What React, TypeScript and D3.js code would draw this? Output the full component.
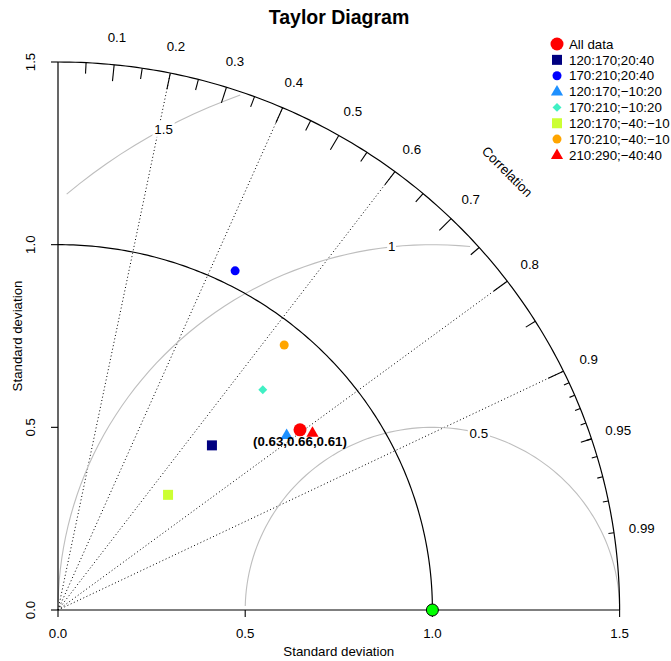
import React from "react";
import * as d3 from "d3";

const W = 671;
const H = 661;
const maxSd = 1.5;
const refSd = 1;

// axis and correlation ticks
const sdTicks = [0, 0.5, 1, 1.5];
const corMajor = [0.1, 0.2, 0.3, 0.4, 0.5, 0.6, 0.7, 0.8, 0.9];
const corMedium = [0.05, 0.15, 0.25, 0.35, 0.45, 0.55, 0.65, 0.75, 0.85, 0.95];
const corMinor = [0.91, 0.92, 0.93, 0.94, 0.95, 0.96, 0.97, 0.98, 0.99];
const corLabels = [0.1, 0.2, 0.3, 0.4, 0.5, 0.6, 0.7, 0.8, 0.9, 0.95, 0.99];
const corLines = [0.2, 0.4, 0.6, 0.8, 0.9];

// centred RMS contours, label index along the arc
const gammaLevels = [0.5, 1, 1.5];
const gammaLabelIdx = [44, 56, 69];

// model points (standard deviation, correlation)
const names = [
  "All data",
  "120:170;20:40",
  "170:210;20:40",
  "120:170;\u221210:20",
  "170:210;\u221210:20",
  "120:170;\u221240:\u221210",
  "170:210;\u221240:\u221210",
  "210:290;\u221240:40",
];
const sds = [0.813, 0.61, 1.042, 0.776, 0.814, 0.431, 0.944, 0.835];
const cors = [0.795, 0.674, 0.454, 0.787, 0.672, 0.682, 0.64, 0.814];
const colors = ["#ff0000", "#000080", "#0000ff", "#1e90ff", "#40f0c4", "#ccff33", "#ffa500", "#ff0000"];
const shapes = ["bigcircle", "square", "circle", "triangle", "diamond", "square", "circle", "triangle"];
const allDataLabel = "(0.63,0.66,0.61)";

const font = "'Liberation Sans', Arial, Helvetica, sans-serif";
const fs = 13.3;

const x = d3.scaleLinear().domain([0, maxSd]).range([58, 619.6]);
const y = d3.scaleLinear().domain([0, maxSd]).range([610, 62]);

const polar = (r: number, a: number): [number, number] => [x(r * Math.cos(a)), y(r * Math.sin(a))];
const line = d3.line<[number, number]>();

function Marker({ shape, color, cx, cy }: { shape: string; color: string; cx: number; cy: number }) {
  if (shape === "bigcircle") return <circle cx={cx} cy={cy} r={6.5} fill={color} />;
  if (shape === "circle") return <circle cx={cx} cy={cy} r={4.5} fill={color} />;
  if (shape === "square") return <rect x={cx - 5} y={cy - 5} width={10} height={10} fill={color} />;
  if (shape === "diamond")
    return <path d={d3.symbol(d3.symbolSquare, 40)() || ""} transform={`translate(${cx},${cy}) rotate(45)`} fill={color} />;
  return <path d={d3.symbol(d3.symbolTriangle, 64)() || ""} transform={`translate(${cx},${cy + 0.5})`} fill={color} />;
}

function textW(s: string, size: number) {
  let w = 0;
  for (const c of s) w += c === "." ? 0.278 : 0.556;
  return w * size;
}

export default function App() {
  const quarter = d3.range(0, Math.PI / 2, 0.01).concat([Math.PI / 2]);
  const outerArc = line(quarter.map((a) => polar(maxSd, a))) || "";
  const refArc = line(quarter.map((a) => polar(refSd, a))) || "";

  const half = d3.range(0, Math.PI, 0.03);
  const gammas = gammaLevels.map((g, gi) => {
    const pts = half.map((a) => [refSd + g * Math.cos(a), g * Math.sin(a)]);
    let start = 0;
    pts.forEach((p, i) => {
      if (p[0] * p[0] + p[1] * p[1] > maxSd * maxSd + 1e-9) start = i + 1;
    });
    let end = pts.length - 1;
    const neg = pts.findIndex((p) => p[0] < 0);
    if (neg >= 0) end = neg - 1;
    const seg = pts.slice(start, end + 1).map((p) => [x(p[0]), y(p[1])] as [number, number]);
    const lp = pts[gammaLabelIdx[gi]];
    return { g, d: line(seg) || "", lx: x(lp[0]), ly: y(lp[1]) };
  });

  const tick = (c: number, inner: number) => {
    const a = Math.acos(c);
    const [x1, y1] = polar(maxSd, a);
    const [x2, y2] = polar(maxSd * inner, a);
    return <line key={`${c}-${inner}`} x1={x1} y1={y1} x2={x2} y2={y2} stroke="#000" strokeWidth={1.1} />;
  };

  const pts = names.map((n, i) => {
    const [px, py] = polar(sds[i], Math.acos(cors[i]));
    return { n, px, py, color: colors[i], shape: shapes[i] };
  });

  return (
    <svg width={W} height={H} style={{ position: "absolute", left: 0, top: 0, background: "#fff" }} fontFamily={font}>
      <text x={339} y={24} textAnchor="middle" fontWeight="bold" fontSize={19.5}>
        Taylor Diagram
      </text>

      {/* correlation rays */}
      {corLines.map((c) => {
        const [x2, y2] = polar(maxSd, Math.acos(c));
        return <line key={c} x1={x(0)} y1={y(0)} x2={x2} y2={y2} stroke="#000" strokeWidth={1} strokeDasharray="1 2.5" />;
      })}

      {/* gamma contours */}
      {gammas.map((g) => (
        <g key={g.g}>
          <path d={g.d} fill="none" stroke="#bebebe" strokeWidth={1.1} />
          <rect
            x={g.lx - (textW(String(g.g), fs) * 1.2) / 2}
            y={g.ly - 8}
            width={textW(String(g.g), fs) * 1.2}
            height={16}
            fill="#fff"
          />
          <text x={g.lx} y={g.ly} dy="0.35em" textAnchor="middle" fontSize={fs}>
            {g.g}
          </text>
        </g>
      ))}

      {/* axes */}
      <line x1={x(0)} y1={y(0)} x2={x(0)} y2={y(maxSd)} stroke="#000" strokeWidth={1.2} />
      <line x1={x(0)} y1={y(0)} x2={x(maxSd)} y2={y(0)} stroke="#000" strokeWidth={1.2} />
      {sdTicks.map((t) => (
        <g key={t}>
          <line x1={x(t)} y1={y(0)} x2={x(t)} y2={y(0) + 7} stroke="#000" strokeWidth={1.1} />
          <text x={x(t)} y={633} dy="0.35em" textAnchor="middle" fontSize={fs}>
            {t.toFixed(1)}
          </text>
          <line x1={x(0) - 7} y1={y(t)} x2={x(0)} y2={y(t)} stroke="#000" strokeWidth={1.1} />
          <text transform={`translate(30,${y(t)}) rotate(-90)`} dy="0.35em" textAnchor="middle" fontSize={fs}>
            {t.toFixed(1)}
          </text>
        </g>
      ))}
      <text x={x(0.75)} y={651} dy="0.35em" textAnchor="middle" fontSize={fs}>
        Standard deviation
      </text>
      <text transform={`translate(17,${y(0.75)}) rotate(-90)`} dy="0.35em" textAnchor="middle" fontSize={fs}>
        Standard deviation
      </text>

      {/* outer arc and ticks */}
      <path d={outerArc} fill="none" stroke="#000" strokeWidth={1.2} />
      {corMajor.map((c) => tick(c, 0.97))}
      {corMedium.map((c) => tick(c, 0.98))}
      {corMinor.map((c) => tick(c, 0.99))}
      {corLabels.map((c) => {
        const [lx, ly] = polar(maxSd * 1.05, Math.acos(c));
        return (
          <text key={c} x={lx} y={ly} dy="0.35em" textAnchor="middle" fontSize={fs}>
            {c}
          </text>
        );
      })}
      <text
        transform={`translate(${x(maxSd * 0.8)},${y(maxSd * 0.8)}) rotate(45)`}
        dy="0.35em"
        textAnchor="middle"
        fontSize={fs}
      >
        Correlation
      </text>

      {/* reference sd arc and point */}
      <path d={refArc} fill="none" stroke="#000" strokeWidth={1.2} />
      <circle cx={x(refSd)} cy={y(0)} r={6} fill="#00ff00" stroke="#000" strokeWidth={1} />

      {/* model points */}
      {pts.map((p) => (
        <Marker key={p.n} shape={p.shape} color={p.color} cx={p.px} cy={p.py} />
      ))}
      <text x={pts[0].px} y={pts[0].py + 12} dy="0.35em" textAnchor="middle" fontSize={fs} fontWeight="bold">
        {allDataLabel}
      </text>

      {/* legend */}
      {pts.map((p, i) => (
        <g key={p.n}>
          <Marker shape={p.shape} color={p.color} cx={557} cy={44 + i * 15.85} />
          <text x={569} y={44 + i * 15.85} dy="0.35em" fontSize={fs}>
            {p.n}
          </text>
        </g>
      ))}
    </svg>
  );
}
